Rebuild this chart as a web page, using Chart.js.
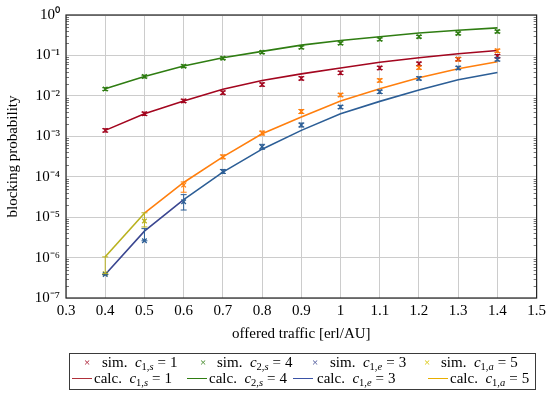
<!DOCTYPE html>
<html>
<head>
<meta charset="utf-8">
<script src="https://cdn.jsdelivr.net/npm/chart.js@4.4.1/dist/chart.umd.min.js"></script>
<style>
body { margin: 0; background: #fff; }
#wrap { position: relative; width: 550px; height: 397px; }
#legend {
    position: absolute; left: 69px; top: 353px; width: 467px; height: 37px;
    border: 1px solid #3a3a3a; box-sizing: border-box;
    font-family: "Liberation Serif", serif; font-size: 15px; color: #000;
}
#legend .it { position: absolute; white-space: nowrap; line-height: 16px; }
#legend i { font-style: italic; }
#legend sub { font-size: 10.5px; vertical-align: -3px; line-height: 0; }
#legend .eq { margin: 0 4px; }
#legend .mk { position: absolute; font-size: 11px; line-height: 16px; transform: translateX(-50%); }
#legend .ln { position: absolute; height: 0; border-top: 1.6px solid; }
</style>
</head>
<body>
<div id="wrap">
    <canvas id="chart" width="550" height="397"></canvas>
    <div id="legend"></div>
</div>
<script>
// offered traffic [erl/AU]
const traffic = [0.4, 0.5, 0.6, 0.7, 0.8, 0.9, 1.0, 1.1, 1.2, 1.3, 1.4];

// simulation results
const simC1s = [0.0014, 0.0036, 0.0075, 0.012, 0.019, 0.027, 0.037, 0.049, 0.062, 0.081, 0.096];
const simC2s = [0.0147, 0.030, 0.054, 0.085, 0.12, 0.158, 0.20, 0.25, 0.29, 0.35, 0.39];
const simC1e = [3.8e-7, 2.6e-6, 2.4e-5, 1.35e-4, 5.5e-4, 1.9e-3, 5.3e-3, 0.0126, 0.027, 0.049, 0.080];
const simC1a = [4.0e-7, 8.0e-6, 6.2e-5, 3.1e-4, 1.2e-3, 4.1e-3, 0.0105, 0.024, 0.050, 0.080, 0.13];

// confidence interval factors (upper = v*hi, lower = v/lo)
const errHiC1s = [1.1, 1.1, 1.1, 1.1, 1.1, 1.1, 1.1, 1.1, 1.1, 1.1, 1.1];
const errLoC1s = [1.1, 1.1, 1.1, 1.1, 1.1, 1.1, 1.1, 1.1, 1.1, 1.1, 1.1];
const errHiC2s = [1.08, 1.08, 1.08, 1.08, 1.08, 1.08, 1.08, 1.08, 1.08, 1.08, 1.08];
const errLoC2s = [1.08, 1.08, 1.08, 1.08, 1.08, 1.08, 1.08, 1.08, 1.08, 1.08, 1.08];
const errHiC1e = [1.0, 2.0, 1.5, 1.12, 1.15, 1.12, 1.1, 1.1, 1.1, 1.1, 1.1];
const errLoC1e = [1.0, 1.0, 1.6, 1.12, 1.15, 1.12, 1.1, 1.1, 1.1, 1.1, 1.1];
const errHiC1a = [2.6, 1.6, 1.2, 1.12, 1.12, 1.12, 1.1, 1.1, 1.1, 1.1, 1.1];
const errLoC1a = [1.0, 1.4, 1.5, 1.12, 1.12, 1.12, 1.1, 1.1, 1.1, 1.1, 1.1];

// calculated results
const calcC1s = [0.0014, 0.0036, 0.0075, 0.0145, 0.024, 0.035, 0.049, 0.068, 0.088, 0.11, 0.132];
const calcC2s = [0.015, 0.030, 0.055, 0.088, 0.126, 0.18, 0.235, 0.29, 0.36, 0.42, 0.48];
const calcC1e = [3.8e-7, 4.5e-6, 2.7e-5, 1.3e-4, 4.8e-4, 1.4e-3, 3.6e-3, 7.3e-3, 0.014, 0.025, 0.038];
const calcC1a = [1.05e-6, 1.25e-5, 7.2e-5, 3.1e-4, 1.15e-3, 3.0e-3, 7.5e-3, 0.015, 0.028, 0.047, 0.070];

const xTicks = [0.3, 0.4, 0.5, 0.6, 0.7, 0.8, 0.9, 1, 1.1, 1.2, 1.3, 1.4, 1.5];
const yExp = [-7, -6, -5, -4, -3, -2, -1, 0];

const RED = '#a3061f', GREEN = '#2f7d12', BLUE = '#2c5e96', ORANGE = '#ff7f0e', GOLD = '#e8ae00';
const SUP = { '-': '⁻', '0': '⁰', '1': '¹', '2': '²', '3': '³', '4': '⁴', '5': '⁵', '6': '⁶', '7': '⁷' };
const serif = '"Liberation Serif", serif';

function pts(ys) { return traffic.map((x, i) => ({ x: x, y: ys[i] })); }

function simSet(label, ys, color, hi, lo) {
    return {
        label: label, data: pts(ys), showLine: false,
        borderColor: color, backgroundColor: color,
        pointStyle: 'crossRot', pointRadius: 3.2, pointBorderWidth: 1.3,
        errHi: hi, errLo: lo, order: 1
    };
}
function calcSet(label, ys, color, segColor) {
    return {
        label: label, data: pts(ys), borderColor: color, borderWidth: 1.6,
        pointRadius: 0, tension: 0, fill: false, order: 2,
        segment: segColor ? { borderColor: segColor } : undefined
    };
}

const datasets = [
    simSet('sim. c1,s = 1', simC1s, RED, errHiC1s, errLoC1s),
    simSet('sim. c2,s = 4', simC2s, GREEN, errHiC2s, errLoC2s),
    simSet('sim. c1,e = 3', simC1e, BLUE, errHiC1e, errLoC1e),
    simSet('sim. c1,a = 5', simC1a, ORANGE, errHiC1a, errLoC1a),
    calcSet('calc. c1,s = 1', calcC1s, RED),
    calcSet('calc. c2,s = 4', calcC2s, GREEN),
    calcSet('calc. c1,e = 3', calcC1e, BLUE, c => c.p0.parsed.x < 0.55 ? '#3b4791' : BLUE),
    calcSet('calc. c1,a = 5', calcC1a, GOLD, c => c.p0.parsed.x < 0.45 ? '#b9b11e' : ORANGE)
];
// low simulated points of c1,a are drawn in olive like the reference
datasets[3].pointBorderColor = c => (c.raw && c.raw.x < 0.55) ? '#b9b11e' : ORANGE;

// error bars, frame and minor ticks
const extras = {
    id: 'extras',
    afterDatasetsDraw(chart) {
        const ctx = chart.ctx, xs = chart.scales.x, ys = chart.scales.y, a = chart.chartArea;
        ctx.save();
        chart.data.datasets.forEach(ds => {
            if (!ds.errHi) return;
            ds.data.forEach((p, i) => {
                const px = xs.getPixelForValue(p.x);
                const top = ys.getPixelForValue(p.y * ds.errHi[i]);
                const bot = ys.getPixelForValue(p.y / ds.errLo[i]);
                const col = typeof ds.pointBorderColor === 'function'
                    ? ds.pointBorderColor({ raw: p }) : ds.borderColor;
                ctx.strokeStyle = col;
                ctx.lineWidth = 1;
                ctx.beginPath();
                ctx.moveTo(px, top); ctx.lineTo(px, bot);
                ctx.moveTo(px - 3, top); ctx.lineTo(px + 3, top);
                ctx.moveTo(px - 3, bot); ctx.lineTo(px + 3, bot);
                ctx.stroke();
            });
        });
        // minor ticks on the log axis
        ctx.strokeStyle = '#555';
        ctx.lineWidth = 0.8;
        ctx.beginPath();
        yExp.forEach(e => {
            if (e === 0) return;
            for (let m = 2; m <= 9; m++) {
                const py = Math.round(ys.getPixelForValue(m * Math.pow(10, e))) + 0.5;
                ctx.moveTo(a.left, py); ctx.lineTo(a.left + 3, py);
                ctx.moveTo(a.right, py); ctx.lineTo(a.right - 3, py);
            }
        });
        ctx.stroke();
        ctx.strokeStyle = '#222';
        ctx.lineWidth = 1.2;
        ctx.strokeRect(a.left, a.top, a.right - a.left, a.bottom - a.top);
        ctx.restore();
    }
};

new Chart(document.getElementById('chart'), {
    type: 'line',
    data: { datasets: datasets },
    plugins: [extras],
    options: {
        responsive: false,
        animation: false,
        layout: { padding: { top: 9, right: 12, bottom: 54, left: 0 } },
        plugins: { legend: { display: false }, tooltip: { enabled: false } },
        scales: {
            x: {
                type: 'linear', min: 0.3, max: 1.5,
                afterBuildTicks: s => { s.ticks = xTicks.map(v => ({ value: v })); },
                afterFit: s => { s.height = 45; },
                ticks: {
                    callback: v => String(Math.round(v * 10) / 10),
                    font: { family: serif, size: 15 }, color: '#000', padding: 4, maxRotation: 0
                },
                grid: { color: '#cccccc', lineWidth: 1, drawTicks: false },
                border: { display: false },
                title: {
                    display: true, text: 'offered traffic [erl/AU]',
                    font: { family: serif, size: 15 }, color: '#000', padding: { top: 1, bottom: 0 }
                }
            },
            y: {
                type: 'logarithmic', min: 1e-7, max: 1,
                afterBuildTicks: s => { s.ticks = yExp.map(e => ({ value: Math.pow(10, e) })); },
                afterFit: s => { s.width = 66; },
                ticks: {
                    autoSkip: false,
                    callback: v => '10' + String(Math.round(Math.log10(v))).split('').map(c => SUP[c]).join(''),
                    font: { family: serif, size: 15 }, color: '#000', padding: 6
                },
                grid: { color: '#cccccc', lineWidth: 1, drawTicks: false },
                border: { display: false },
                title: {
                    display: true, text: 'blocking probability',
                    font: { family: serif, size: 15 }, color: '#000', padding: { top: 4, bottom: 2 }
                }
            }
        }
    }
});

// legend: row of simulated markers above row of calculated lines
const legendSim = [
    [RED, 'c', '1,', 's', '1'],
    [GREEN, 'c', '2,', 's', '4'],
    ['#3b4791', 'c', '1,', 'e', '3'],
    ['#d8c400', 'c', '1,', 'a', '5']
];
const legendCalc = [
    ['#b0303a', 'c', '1,', 's', '1'],
    [GREEN, 'c', '2,', 's', '4'],
    ['#3a52a6', 'c', '1,', 'e', '3'],
    [GOLD, 'c', '1,', 'a', '5']
];
const simMarkX = [17, 133, 245, 357], simTextX = [32, 147, 260, 371];
const calcLineX = [2, 117, 223, 358], calcTextX = [24, 139, 247, 380];

const lg = document.getElementById('legend');
function label(word, it) {
    return word + '&nbsp; <i>' + it[1] + '</i><sub>' + it[2] + '<i>' + it[3] + '</i></sub><span class="eq">=</span>' + it[4];
}
legendSim.forEach((it, k) => {
    const m = document.createElement('span');
    m.className = 'mk'; m.style.color = it[0]; m.textContent = '×';
    m.style.left = simMarkX[k] + 'px'; m.style.top = '0px';
    const t = document.createElement('span');
    t.className = 'it'; t.innerHTML = label('sim.', it);
    t.style.left = simTextX[k] + 'px'; t.style.top = '0px';
    lg.appendChild(m); lg.appendChild(t);
});
legendCalc.forEach((it, k) => {
    const l = document.createElement('span');
    l.className = 'ln'; l.style.borderColor = it[0];
    l.style.left = calcLineX[k] + 'px'; l.style.width = '20px'; l.style.top = '24px';
    const t = document.createElement('span');
    t.className = 'it'; t.innerHTML = label('calc.', it);
    t.style.left = calcTextX[k] + 'px'; t.style.top = '16px';
    lg.appendChild(l); lg.appendChild(t);
});
</script>
</body>
</html>
